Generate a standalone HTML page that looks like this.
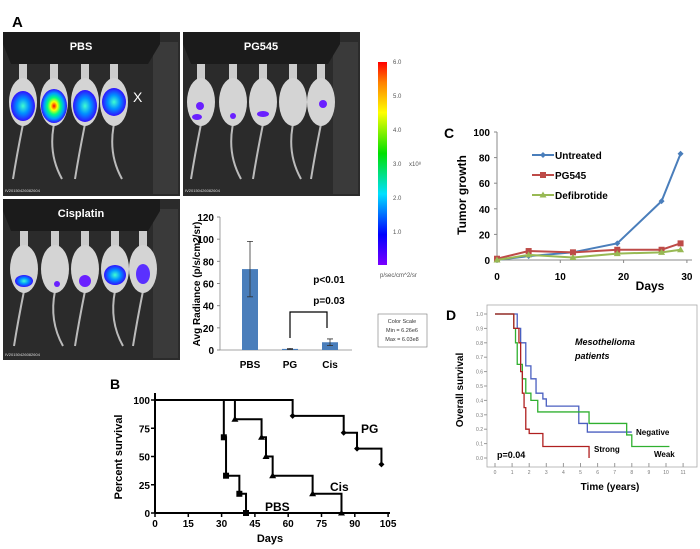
<!DOCTYPE html>
<html><head><meta charset="utf-8"><style>
body{margin:0;background:#fff;}
svg{display:block;font-family:"Liberation Sans",Arial,sans-serif;}
</style></head><body>
<svg id="s" width="700" height="549" viewBox="0 0 700 549" xmlns="http://www.w3.org/2000/svg">
<defs>
<linearGradient id="cb" x1="0" y1="1" x2="0" y2="0">
<stop offset="0" stop-color="#7a00ff"/><stop offset="0.15" stop-color="#0000ff"/><stop offset="0.35" stop-color="#00e0ff"/><stop offset="0.55" stop-color="#00e000"/><stop offset="0.75" stop-color="#ffff00"/><stop offset="0.9" stop-color="#ff8000"/><stop offset="1" stop-color="#ff0000"/>
</linearGradient>
<radialGradient id="hot"><stop offset="0" stop-color="#ff0000"/><stop offset="0.25" stop-color="#ffff00"/><stop offset="0.5" stop-color="#00ff80"/><stop offset="0.75" stop-color="#00a0ff"/><stop offset="1" stop-color="#3010ff"/></radialGradient>
<radialGradient id="warm"><stop offset="0" stop-color="#40ffd0"/><stop offset="0.5" stop-color="#0090ff"/><stop offset="1" stop-color="#3010ff"/></radialGradient>
</defs>
<text x="12" y="27" font-size="15" font-weight="bold">A</text>
<g id="imgs"></g>
<rect x="378" y="62" width="9" height="203" fill="url(#cb)"/>
<g font-size="6" fill="#555">
<text x="393" y="64">6.0</text><text x="393" y="98">5.0</text><text x="393" y="132">4.0</text><text x="393" y="166">3.0</text><text x="393" y="200">2.0</text><text x="393" y="234">1.0</text>
<text x="409" y="166">x10⁸</text>
<text x="380" y="277">p/sec/cm^2/sr</text>
</g>
<g>
<rect x="378" y="314" width="49" height="33" fill="#fff" stroke="#777" stroke-width="0.6"/>
<text x="402" y="323" font-size="5.5" text-anchor="middle" fill="#333">Color Scale</text>
<text x="402" y="332" font-size="5.5" text-anchor="middle" fill="#333">Min = 6.26e6</text>
<text x="402" y="341" font-size="5.5" text-anchor="middle" fill="#333">Max = 6.03e8</text>
</g>
<g id="bar"></g>
<g id="c"></g>
<g id="b"></g>
<g id="d"></g>
</svg>
<script>
// ---- data ----
const barCats=["PBS","PG","Cis"];
const barVals=[73,1,7];
const barErr=[25,0.5,3];
const barTicks=[0,20,40,60,80,100,120];
const cDays=[0,5,12,19,26,29];
const cUntreated=[0,3,6,13,46,83];
const cPG545=[1,7,6,8,8,13];
const cDefib=[0,4,2,5,6,8];
const cXTicks=[0,10,20,30];
const cYTicks=[0,20,40,60,80,100];
const bXTicks=[0,15,30,45,60,75,90,105];
const bYTicks=[0,25,50,75,100];
const bPBS=[[0,100],[31,67],[32,33],[38,17],[41,0]];
const bCis=[[0,100],[36,83],[48,67],[50,50],[53,33],[71,17],[84,0]];
const bPG=[[0,100],[62,86],[85,71],[91,57],[102,43]];
const bPBSEnd=41,bCisEnd=84,bPGEnd=102;
const dStrong=[[0,1],[1.1,0.9],[1.4,0.8],[1.5,0.6],[1.6,0.45],[1.7,0.35],[1.8,0.2],[2,0.17],[2.8,0.08],[5.5,0]];
const dWeak=[[0,1],[1.1,0.9],[1.2,0.8],[1.3,0.65],[1.6,0.55],[1.8,0.45],[2.1,0.4],[2.5,0.32],[5.5,0.24],[7.7,0.16],[8,0.08]];
const dNeg=[[0,1],[1.3,0.9],[1.5,0.8],[1.8,0.64],[2.1,0.55],[2.4,0.45],[2.8,0.41],[3,0.36],[4.9,0.24],[5.4,0.18]];
const dStrongEnd=5.5,dWeakEnd=10.2,dNegEnd=8;
const dXTicks=[0,1,2,3,4,5,6,7,8,9,10,11];
const dYTicks=[0,0.1,0.2,0.3,0.4,0.5,0.6,0.7,0.8,0.9,1.0];
</script>
<script>
const NS="http://www.w3.org/2000/svg";
function el(p,t,a,txt){const e=document.createElementNS(NS,t);for(const k in a)e.setAttribute(k,a[k]);if(txt!=null)e.textContent=txt;p.appendChild(e);return e;}
const imgs=document.getElementById('imgs');
function panel(x,y,w,h,title,centers,blobs,name){
 const g=el(imgs,'g',{});
 
 
 el(g,'rect',{x:x,y:y,width:w,height:h,fill:'#2b2b2b'});
 el(g,'rect',{x:x+150,y:y+10,width:w-152,height:h-12,fill:'#3a3a3a'});
 el(g,'path',{d:`M${x} ${y} h${w-20} v12 l-12 20 h-${w-40} l-8 -20z`,fill:'#1b1b1b'});
 el(g,'text',{x:x+78,y:y+18,'font-size':11,'font-weight':'bold',fill:'#fff','text-anchor':'middle'},title);
 centers.forEach((c,i)=>{const cx=x+c;
  el(g,'path',{d:`M${cx} ${y+92} q-6 30 ${i%2?8:-10} 55`,stroke:'#bbb','stroke-width':2,fill:'none'});
  el(g,'rect',{x:cx-4,y:y+32,width:8,height:16,fill:'#ccc'});
  el(g,'ellipse',{cx:cx,cy:y+70,rx:14,ry:24,fill:'#d4d4d4'});
 });
 blobs.forEach(b=>el(g,'ellipse',{cx:x+centers[b[0]]+b[1],cy:y+b[2],rx:b[3],ry:b[4],fill:b[5]}));
 el(g,'text',{x:x+2,y:y+h-4,'font-size':4,fill:'#ddd'},'IV20150426082604');
}
panel(3,32,177,164,'PBS',[20,51,82,111],[[0,0,74,12,15,'url(#warm)'],[1,0,74,13,17,'url(#hot)'],[2,0,74,12,16,'url(#warm)'],[3,0,70,12,14,'url(#warm)']],'pbs-image');
el(imgs,'text',{x:133,y:102,'font-size':14,fill:'#fff'},'X');
panel(183,32,177,164,'PG545',[18,50,80,110,138],[[0,-1,74,4,4,'#6a20ff'],[0,-4,85,5,3,'#6a20ff'],[1,0,84,3,3,'#6a20ff'],[2,0,82,6,3,'#6a20ff'],[4,2,72,4,4,'#6a20ff']],'pg545-image');
panel(3,199,177,161,'Cisplatin',[21,52,82,112,140],[[0,0,82,9,6,'url(#warm)'],[1,2,85,3,3,'#6a20ff'],[2,0,82,6,6,'#6a20ff'],[3,0,76,11,10,'url(#warm)'],[4,0,75,7,10,'#5a30ff']],'cisplatin-image');
// ---- bar chart ----
const bg=document.getElementById('bar');
const byS=v=>350-v*(133/120);
const bxC=[250,290,330];
el(bg,'line',{x1:220,y1:217,x2:220,y2:350,stroke:'#888','stroke-width':0.8});
el(bg,'line',{x1:220,y1:350,x2:352,y2:350,stroke:'#888','stroke-width':0.8});
barTicks.forEach(t=>{el(bg,'line',{x1:217,x2:220,y1:byS(t),y2:byS(t),stroke:'#888'});
 const tx=el(bg,'text',{x:214,y:byS(t)+4,'font-size':10,'font-weight':'bold','text-anchor':'end'},t);
 
 });
barCats.forEach((c,i)=>{const cx=bxC[i];
 const r=el(bg,'rect',{x:cx-8,y:byS(barVals[i]),width:16,height:350-byS(barVals[i]),fill:'#4a7ebb'});
 
 
 el(bg,'path',{d:`M${cx} ${byS(barVals[i]+barErr[i])}V${byS(barVals[i]-barErr[i])}M${cx-3} ${byS(barVals[i]+barErr[i])}h6M${cx-3} ${byS(barVals[i]-barErr[i])}h6`,stroke:'#333','stroke-width':0.8});
 const t=el(bg,'text',{x:cx,y:368,'font-size':10,'font-weight':'bold','text-anchor':'middle'},c);
 
 });
const yt=el(bg,'text',{transform:'translate(200,284) rotate(-90)','font-size':10,'font-weight':'bold','text-anchor':'middle'},'Avg Radiance (p/s/cm2/sr)');


el(bg,'text',{x:329,y:283,'font-size':10,'font-weight':'bold','text-anchor':'middle'},'p<0.01');
el(bg,'text',{x:329,y:304,'font-size':10,'font-weight':'bold','text-anchor':'middle'},'p=0.03');
el(bg,'path',{d:'M290 338V312H327V328',stroke:'#000','stroke-width':1.2,fill:'none'});
// ---- panel C ----
const cg=document.getElementById('c');
const cx=d=>497+d*6.33, cy=v=>260-v*1.28;
el(cg,'text',{x:444,y:138,'font-size':14,'font-weight':'bold'},'C');
el(cg,'line',{x1:497,y1:132,x2:497,y2:260,stroke:'#888'});
el(cg,'line',{x1:497,y1:260,x2:692,y2:260,stroke:'#888'});
cYTicks.forEach(t=>{el(cg,'line',{x1:494,x2:497,y1:cy(t),y2:cy(t),stroke:'#888'});
 const tx=el(cg,'text',{x:490,y:cy(t)+4,'font-size':10,'font-weight':'bold','text-anchor':'end'},t);
 
 });
cXTicks.forEach(t=>{el(cg,'line',{x1:cx(t),x2:cx(t),y1:260,y2:263,stroke:'#888'});
 const tx=el(cg,'text',{x:cx(t),y:280,'font-size':10,'font-weight':'bold','text-anchor':'middle'},t);
 
 });
el(cg,'text',{x:650,y:290,'font-size':12,'font-weight':'bold','text-anchor':'middle'},'Days');
const cyt=el(cg,'text',{transform:'translate(466,195) rotate(-90)','font-size':12,'font-weight':'bold','text-anchor':'middle'},'Tumor growth');


function marker(g,t,x,y,c){if(t==='d')el(g,'path',{d:`M${x} ${y-3}l3 3l-3 3l-3 -3z`,fill:c});
 else if(t==='s')el(g,'rect',{x:x-3,y:y-3,width:6,height:6,fill:c});
 else el(g,'path',{d:`M${x} ${y-3.5}l3.5 6h-7z`,fill:c});}
[[cUntreated,'#4a7ebb','d','Untreated'],[cPG545,'#be4b48','s','PG545'],[cDefib,'#98b954','t','Defibrotide']].forEach((s,k)=>{
 const l=el(cg,'polyline',{points:cDays.map((d,i)=>cx(d)+','+cy(s[0][i])).join(' '),fill:'none',stroke:s[1],'stroke-width':2});
 
 
 cDays.forEach((d,i)=>marker(cg,s[2],cx(d),cy(s[0][i]),s[1]));
 const ly=155+k*20;
 el(cg,'line',{x1:532,x2:554,y1:ly,y2:ly,stroke:s[1],'stroke-width':2});
 marker(cg,s[2],543,ly,s[1]);
 const lt=el(cg,'text',{x:555,y:ly+4,'font-size':10,'font-weight':'bold'},s[3]);
 
 
});
// ---- panel B ----
const bgB=document.getElementById('b');
const bx=d=>155+d*2.22, by=v=>513-v*1.13;
el(bgB,'text',{x:110,y:389,'font-size':14,'font-weight':'bold'},'B');
el(bgB,'line',{x1:155,y1:393,x2:155,y2:513,stroke:'#000','stroke-width':2});
el(bgB,'line',{x1:155,y1:513,x2:390,y2:513,stroke:'#000','stroke-width':2});
bYTicks.forEach(t=>{el(bgB,'line',{x1:151,x2:155,y1:by(t),y2:by(t),stroke:'#000','stroke-width':1.5});
 const tx=el(bgB,'text',{x:150,y:by(t)+4,'font-size':10,'font-weight':'bold','text-anchor':'end'},t);
 
 });
bXTicks.forEach(t=>{el(bgB,'line',{x1:bx(t),x2:bx(t),y1:513,y2:517,stroke:'#000','stroke-width':1.5});
 const tx=el(bgB,'text',{x:bx(t),y:527,'font-size':10,'font-weight':'bold','text-anchor':'middle'},t);
 
 });
el(bgB,'text',{x:270,y:542,'font-size':11,'font-weight':'bold','text-anchor':'middle'},'Days');
const byt=el(bgB,'text',{transform:'translate(122,457) rotate(-90)','font-size':11,'font-weight':'bold','text-anchor':'middle'},'Percent survival');


function stepPath(pts,end,X,Y){let d=`M${X(pts[0][0])} ${Y(pts[0][1])}`;for(let i=1;i<pts.length;i++){d+=`H${X(pts[i][0])}V${Y(pts[i][1])}`;}d+=`H${X(end)}`;return d;}
[[bPBS,bPBSEnd,'s','pbs'],[bCis,bCisEnd,'t','cis'],[bPG,bPGEnd,'d','pg']].forEach(s=>{
 const p=el(bgB,'path',{d:stepPath(s[0],s[1],bx,by),fill:'none',stroke:'#000','stroke-width':2});
 
 
 s[0].slice(1).forEach(q=>marker(bgB,s[2],bx(q[0]),by(q[1]),'#000'));
});
el(bgB,'text',{x:361,y:433,'font-size':12,'font-weight':'bold'},'PG');
el(bgB,'text',{x:330,y:491,'font-size':12,'font-weight':'bold'},'Cis');
el(bgB,'text',{x:265,y:511,'font-size':12,'font-weight':'bold'},'PBS');
// ---- panel D ----
const dg=document.getElementById('d');
const dx=t=>495+t*17.1, dy=v=>458-v*144;
el(dg,'text',{x:446,y:320,'font-size':14,'font-weight':'bold'},'D');
el(dg,'rect',{x:487,y:305,width:210,height:162,fill:'#fff',stroke:'#aaa','stroke-width':0.8});
dYTicks.forEach(t=>{el(dg,'line',{x1:484,x2:487,y1:dy(t),y2:dy(t),stroke:'#999'});
 const tx=el(dg,'text',{x:483,y:dy(t)+2,'font-size':5,fill:'#777','text-anchor':'end'},t.toFixed(1));
 
 });
dXTicks.forEach(t=>{el(dg,'line',{x1:dx(t),x2:dx(t),y1:463,y2:467,stroke:'#999'});
 const tx=el(dg,'text',{x:dx(t),y:474,'font-size':5,fill:'#777','text-anchor':'middle'},t);
 
 });
el(dg,'text',{x:610,y:490,'font-size':10,'font-weight':'bold','text-anchor':'middle'},'Time (years)');
const dyt=el(dg,'text',{transform:'translate(463,390) rotate(-90)','font-size':10,'font-weight':'bold','text-anchor':'middle'},'Overall survival');


el(dg,'text',{x:575,y:345,'font-size':9,'font-weight':'bold','font-style':'italic'},'Mesothelioma');
el(dg,'text',{x:575,y:359,'font-size':9,'font-weight':'bold','font-style':'italic'},'patients');
[[dNeg,dNegEnd,'#4a5fc0','negative'],[dWeak,dWeakEnd,'#30b030','weak'],[dStrong,dStrongEnd,'#b02020','strong']].forEach(s=>{
 const p=el(dg,'path',{d:stepPath(s[0],s[1],dx,dy)+(s[3]==='strong'?`V${dy(0)}`:''),fill:'none',stroke:s[2],'stroke-width':1.3});
 
 
});
el(dg,'text',{x:497,y:458,'font-size':9,'font-weight':'bold'},'p=0.04');
el(dg,'text',{x:594,y:452,'font-size':8,'font-weight':'bold'},'Strong');
el(dg,'text',{x:636,y:435,'font-size':8,'font-weight':'bold'},'Negative');
el(dg,'text',{x:654,y:457,'font-size':8,'font-weight':'bold'},'Weak');
</script>
</body></html>
